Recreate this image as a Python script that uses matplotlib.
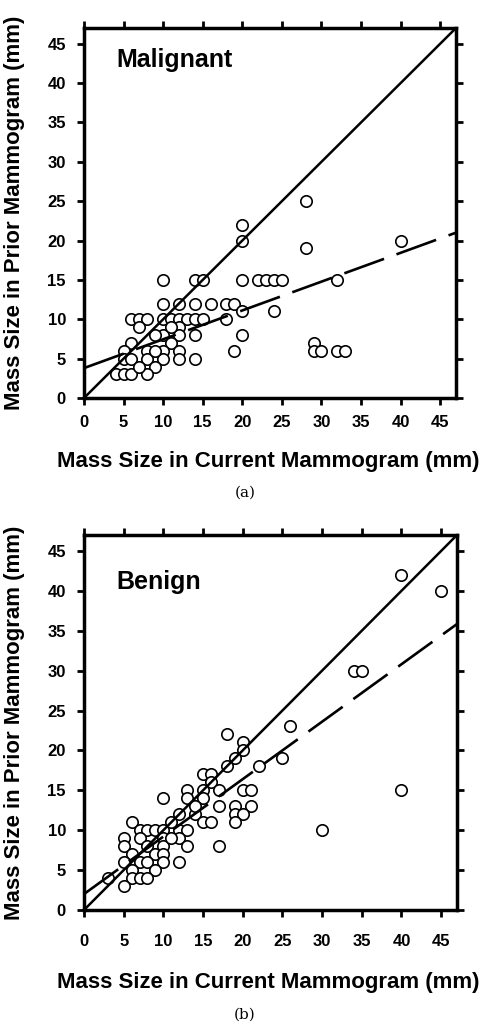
import numpy as np
import matplotlib
matplotlib.use('Agg')
from matplotlib import pyplot as plt

# malignant masses: current size (x) vs prior size (y), mm
mal_x = [28, 20, 20, 28, 40, 10, 14, 15, 20, 22, 23, 24, 25, 32,
         10, 12, 14, 16, 18, 19, 20, 24,
         6, 7, 8, 10, 11, 12, 13, 14, 15, 18,
         7, 12, 10, 12, 14, 20, 6, 11, 9,
         5, 8, 10, 12, 19, 29, 29, 30, 32, 33,
         5, 6, 8, 10, 12, 14, 9, 4, 5, 6, 8, 7, 11, 9]
mal_y = [25, 22, 20, 19, 20, 15, 15, 15, 15, 15, 15, 15, 15, 15,
         12, 12, 12, 12, 12, 12, 11, 11,
         10, 10, 10, 10, 10, 10, 10, 10, 10, 10,
         9, 9, 8, 8, 8, 8, 7, 7, 8,
         6, 6, 6, 6, 6, 7, 6, 6, 6, 6,
         5, 5, 5, 5, 5, 5, 4, 3, 3, 3, 3, 4, 9, 6]
mal_fit = (3.8, 0.366)  # intercept, slope of dashed line

# benign masses
ben_x = [40, 45, 34, 35, 18, 26, 20, 20, 19, 18, 22, 25,
         15, 16, 16, 13, 15, 17, 20, 21, 40, 10, 13, 15,
         17, 19, 21, 12, 14, 19, 20, 15, 16, 19, 6, 30,
         7, 8, 9, 10, 12, 13, 5, 7, 10, 12,
         5, 8, 10, 13, 17, 6, 9, 10, 5, 7, 8, 10, 12,
         6, 9, 3, 6, 7, 8, 5, 11, 14, 11]
ben_y = [42, 40, 30, 30, 22, 23, 21, 20, 19, 18, 18, 19,
         17, 17, 16, 15, 15, 15, 15, 15, 15, 14, 14, 14,
         13, 13, 13, 12, 12, 12, 12, 11, 11, 11, 11, 10,
         10, 10, 10, 10, 10, 10, 9, 9, 9, 9,
         8, 8, 8, 8, 8, 7, 7, 7, 6, 6, 6, 6, 6,
         5, 5, 4, 4, 4, 4, 3, 9, 13, 11]
ben_fit = (2.0, 0.72)

ticks = [0, 5, 10, 15, 20, 25, 30, 35, 40, 45]
xlabel = 'Mass Size in Current Mammogram (mm)'
ylabel = 'Mass Size in Prior Mammogram (mm)'

plt.rcParams['font.family'] = ['Liberation Sans', 'DejaVu Sans']
fig = plt.figure(figsize=(4.92, 10.28), dpi=100)

W, H = 492.0, 1028.0
# box (px), data, fit, title, title y (axes), tag, tag y (px), x tick pad, x label y (px)
panels = [
    ([84, 28, 456, 398], mal_x, mal_y, mal_fit, 'Malignant', 0.913, '(a)', 493, 7, 451),
    ([84, 535, 457, 910], ben_x, ben_y, ben_fit, 'Benign', 0.875, '(b)', 1015, 12, 972),
]

for box, xs, ys, fit, title, title_y, tag, tag_y, xpad, xlab_y in panels:
    l, t, r, b = box
    ax = fig.add_axes([l / W, 1 - b / H, (r - l) / W, (b - t) / H])
    ax.set_xlim(0, 47)
    ax.set_ylim(0, 47)
    ax.plot(xs, ys, 'o', ms=8.2, mfc='white', mec='black', mew=1.2, zorder=2)
    ax.plot([0, 47], [0, 47], color='black', lw=1.8, zorder=3)
    xx = np.array([0, 47])
    ax.plot(xx, fit[0] + fit[1] * xx, color='black', lw=1.9,
            dashes=(16, 5), zorder=3)
    ax.set_xticks(ticks)
    ax.set_yticks(ticks)
    ax.tick_params(direction='out', length=5, width=2, top=True, right=True,
                   labelsize=12)
    ax.tick_params(axis='x', pad=xpad)
    ax.tick_params(axis='y', pad=8)
    for lab in ax.get_xticklabels() + ax.get_yticklabels():
        lab.set_fontweight('bold')
    for s in ax.spines.values():
        s.set_linewidth(2.5)
    ax.set_xlabel(xlabel, fontsize=16, fontweight='bold', va='top')
    ax.xaxis.set_label_coords(0.495, (b - xlab_y) / (b - t))
    ax.set_ylabel(ylabel, fontsize=16, fontweight='bold')
    ax.yaxis.set_label_coords((25 - l) / (r - l), 0.5)
    ax.text(0.088, title_y, title, transform=ax.transAxes, fontsize=18,
            fontweight='bold', va='center', ha='left')
    fig.text(245 / W, 1 - tag_y / H, tag, family='DejaVu Serif',
             fontsize=11, ha='center', va='center')

fig.savefig('out.png', dpi=100)
